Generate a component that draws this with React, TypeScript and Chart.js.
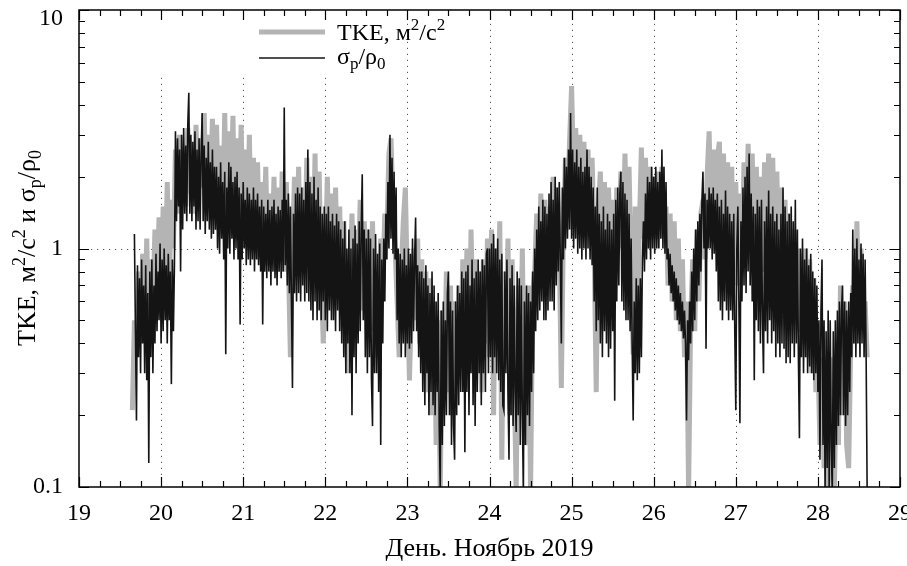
import React, { useEffect, useRef } from "react";
import { Chart, registerables } from "chart.js";

Chart.register(...registerables);

// σp/ρ0 (black), sampled every 0.0125 day starting at day 19.675 (one row = half a day)
const SIGMA_T0 = 19.675;
const SIGMA_DT = 0.0125;
const sigmaValues = [
  1.15, 0.45, 0.19, 0.85, 0.35, 0.75, 0.3, 0.9, 0.4, 0.7, 0.3, 0.85, 0.28, 0.65, 0.126, 0.8, 0.35, 0.9, 0.3, 0.7, 0.4, 0.95, 0.45, 0.8, 0.5, 1.05, 0.4, 0.9, 0.45, 1.0, 0.5, 0.85, 0.4, 0.95, 0.5, 0.8, 0.27, 0.9, 0.45, 0.85,
  3.1, 1.3, 2.9, 1.5, 2.6, 0.8, 3.0, 1.2, 3.2, 1.4, 2.7, 1.3, 3.3, 4.5, 1.4, 3.0, 1.3, 2.8, 1.5, 3.1, 1.2, 2.6, 1.3, 2.9, 1.2, 2.5, 3.7, 1.3, 2.7, 1.15, 2.4, 1.3, 2.8, 1.2, 2.3, 1.1, 2.6, 1.15, 2.2, 1.2,
  2.2, 1.0, 2.0, 0.95, 2.3, 1.1, 1.9, 0.9, 2.1, 0.36, 1.8, 1.0, 2.3, 0.95, 2.2, 1.1, 1.9, 0.9, 2.0, 1.0, 2.1, 0.9, 1.8, 0.48, 1.7, 0.9, 1.9, 1.0, 1.6, 0.85, 1.8, 0.9, 1.7, 0.85, 1.6, 0.9, 1.8, 0.8, 1.6, 0.9,
  1.7, 0.85, 1.5, 0.8, 1.6, 0.48, 1.5, 0.8, 1.4, 0.75, 1.6, 0.8, 1.45, 0.7, 1.5, 0.8, 1.6, 0.75, 1.4, 0.7, 1.5, 0.8, 1.45, 0.75, 1.6, 0.8, 3.9, 0.85, 1.6, 0.7, 1.7, 0.65, 1.5, 0.6, 0.26, 1.4, 0.65, 1.7, 0.6, 1.8,
  0.65, 1.7, 0.6, 1.8, 0.7, 1.6, 0.6, 1.9, 0.65, 2.6, 0.6, 1.9, 0.55, 1.7, 0.5, 2.0, 0.6, 1.6, 0.5, 1.8, 0.55, 1.5, 0.5, 1.4, 0.6, 1.5, 0.5, 1.4, 0.45, 1.5, 0.55, 1.3, 0.5, 1.4, 0.5, 1.25, 0.45, 1.4, 0.55, 1.3,
  0.45, 1.2, 0.4, 1.1, 0.35, 1.3, 0.3, 1.0, 0.4, 1.2, 0.3, 1.0, 0.2, 1.1, 0.35, 1.25, 0.3, 1.05, 0.4, 1.3, 0.45, 1.2, 2.05, 0.5, 1.2, 0.35, 1.1, 0.3, 1.2, 0.35, 1.1, 0.28, 0.18, 1.0, 0.3, 1.15, 0.3, 0.95, 0.25, 1.05,
  0.15, 0.9, 0.4, 1.1, 0.6, 1.4, 0.9, 1.9, 1.0, 3.0, 1.1, 2.4, 0.95, 2.1, 0.9, 1.8, 0.5, 1.0, 0.4, 0.95, 0.35, 0.9, 0.4, 1.0, 0.35, 0.85, 0.4, 1.0, 0.38, 0.95, 0.4, 1.1, 0.45, 0.9, 1.35, 0.45, 0.85, 0.35, 0.8, 0.3,
  0.8, 0.25, 0.75, 0.22, 0.85, 0.3, 0.7, 0.2, 0.65, 0.25, 0.8, 0.22, 0.7, 0.2, 0.6, 0.25, 0.65, 0.18, 0.1, 0.55, 0.15, 0.6, 0.18, 0.5, 0.2, 0.65, 0.8, 0.2, 0.6, 0.15, 0.55, 0.18, 0.13, 0.6, 0.2, 0.7, 0.22, 0.65, 0.25, 0.8,
  0.25, 0.75, 0.14, 0.8, 0.25, 0.85, 0.2, 0.7, 0.3, 0.9, 0.22, 0.75, 0.18, 0.8, 0.25, 0.9, 0.3, 0.8, 0.22, 0.9, 0.3, 0.85, 0.25, 0.95, 1.0, 0.3, 1.0, 0.35, 1.05, 0.3, 1.15, 0.35, 1.0, 0.3, 1.1, 0.28, 0.9, 0.25, 0.95, 0.22,
  0.21, 0.8, 0.3, 0.9, 0.25, 0.13, 0.75, 0.2, 0.85, 0.18, 0.7, 0.25, 0.17, 0.8, 0.2, 0.75, 0.15, 0.7, 0.2, 0.095, 0.6, 0.15, 0.7, 0.2, 0.65, 0.18, 0.6, 0.25, 0.8, 0.3, 1.0, 0.45, 1.2, 0.5, 1.5, 0.55, 1.3, 0.6, 1.6, 0.5,
  1.5, 0.5, 1.4, 0.55, 1.7, 0.6, 1.9, 0.6, 1.6, 0.55, 2.0, 0.7, 1.8, 0.8, 1.9, 0.9, 0.4, 1.8, 0.9, 2.4, 1.0, 2.2, 1.1, 2.6, 1.2, 3.7, 1.1, 2.6, 1.0, 2.3, 1.1, 2.6, 0.95, 2.2, 1.0, 2.4, 0.9, 2.1, 1.0, 2.2,
  0.9, 2.6, 1.0, 2.2, 0.9, 2.0, 0.85, 1.8, 0.6, 1.5, 0.45, 1.8, 0.5, 1.4, 0.4, 1.3, 0.35, 1.5, 0.45, 1.2, 0.4, 1.4, 0.35, 1.3, 0.38, 1.2, 0.45, 1.4, 0.23, 1.6, 0.6, 1.8, 0.7, 1.7, 2.1, 0.6, 1.9, 0.55, 1.7, 0.5,
  1.6, 0.5, 1.4, 0.45, 1.1, 0.4, 0.19, 0.6, 0.3, 0.75, 0.28, 0.7, 0.3, 0.75, 0.35, 0.9, 1.3, 0.8, 1.7, 0.9, 2.0, 1.0, 1.9, 0.9, 2.2, 1.0, 2.0, 0.95, 2.2, 1.0, 1.9, 1.0, 2.1, 1.1, 2.6, 1.0, 2.2, 0.95, 1.9, 0.9,
  1.0, 0.7, 0.95, 0.65, 0.85, 0.6, 0.8, 0.55, 0.75, 0.5, 0.7, 0.48, 0.65, 0.45, 0.6, 0.42, 0.55, 0.4, 0.19, 0.5, 0.34, 0.6, 0.4, 0.8, 0.45, 1.0, 0.5, 1.2, 0.6, 1.3, 0.7, 1.4, 0.8, 1.6, 2.1, 1.0, 1.7, 0.38, 1.6, 1.0,
  1.8, 1.0, 1.7, 0.9, 1.8, 0.95, 1.6, 0.8, 1.7, 0.6, 1.5, 0.55, 1.6, 0.5, 1.4, 0.6, 1.75, 0.55, 1.5, 0.5, 1.4, 0.55, 1.3, 0.5, 1.4, 0.45, 0.21, 1.0, 1.5, 0.6, 0.185, 1.3, 0.6, 1.8, 0.7, 2.0, 0.65, 2.2, 0.8, 2.5,
  0.7, 1.7, 0.6, 1.5, 0.28, 1.4, 0.5, 1.6, 0.45, 1.5, 0.4, 1.6, 0.5, 0.3, 1.3, 0.45, 1.5, 0.4, 1.75, 0.5, 1.4, 0.4, 1.5, 0.45, 1.3, 0.35, 1.4, 0.4, 1.2, 0.35, 1.4, 0.4, 1.8, 0.38, 1.5, 0.33, 1.3, 0.35, 1.4, 0.33,
  1.5, 0.4, 1.3, 0.35, 1.6, 0.4, 1.2, 0.35, 0.16, 1.0, 0.35, 1.1, 0.3, 0.9, 0.35, 1.0, 0.3, 0.85, 0.32, 0.95, 0.3, 0.8, 0.28, 0.75, 0.3, 0.7, 0.25, 0.5, 0.13, 0.55, 0.9, 0.15, 0.5, 0.095, 0.45, 0.12, 0.55, 0.1, 0.5, 0.15,
  0.095, 0.45, 0.12, 0.5, 0.15, 0.55, 0.18, 0.6, 0.2, 0.55, 0.7, 0.2, 0.6, 0.18, 0.55, 0.2, 0.6, 0.25, 0.65, 0.35, 1.2, 0.4, 1.0, 0.35, 1.1, 0.4, 0.9, 0.35, 1.05, 0.4, 0.95, 0.35, 0.9, 0.35, 0.095,
];

// TKE (grey), sampled every 0.025 day starting at day 19.65 (one row = half a day)
const TKE_T0 = 19.65;
const TKE_DT = 0.025;
const tkeValues = [
  0.21, 0.5, 0.35, 0.8, 0.4, 0.95, 0.5, 1.1, 0.45, 0.9, 0.6, 1.2, 0.7, 1.35, 0.6, 1.5, 0.8, 1.9, 0.7, 1.6,
  1.0, 2.6, 1.4, 3.0, 1.6, 2.5, 1.5, 3.2, 1.7, 2.8, 1.4, 3.3, 1.6, 2.9, 1.8, 3.7, 1.5, 3.0, 1.6, 3.5,
  1.4, 3.3, 1.5, 2.7, 1.3, 3.7, 1.2, 3.1, 1.4, 3.6, 1.1, 2.9, 1.3, 3.3, 1.2, 2.6, 1.1, 3.0, 1.0, 2.4,
  1.0, 2.3, 0.9, 1.9, 1.0, 2.2, 0.85, 1.7, 0.9, 2.0, 0.8, 1.8, 0.9, 2.1, 0.8, 1.9, 0.9, 0.35, 1.0, 2.0,
  0.9, 2.2, 0.8, 1.8, 1.0, 2.4, 0.9, 2.0, 0.8, 2.5, 0.7, 2.1, 0.8, 0.4, 0.9, 2.0, 0.7, 1.7, 0.8, 1.8,
  0.7, 1.5, 0.6, 1.3, 0.5, 0.3, 0.7, 1.4, 0.6, 1.2, 0.7, 1.6, 0.55, 1.3, 0.5, 1.2, 0.45, 1.3, 0.5, 0.35,
  0.6, 1.1, 0.7, 1.4, 1.2, 2.5, 2.9, 1.5, 1.0, 0.6, 0.35, 0.8, 1.3, 1.8, 0.7, 0.28, 0.6, 1.0, 0.5, 1.1,
  0.4, 0.9, 0.35, 0.8, 0.25, 0.75, 0.2, 0.6, 0.15, 0.5, 0.095, 0.55, 0.3, 0.8, 0.25, 0.7, 0.2, 0.6, 0.3, 0.7,
  0.35, 0.9, 0.4, 1.0, 0.3, 1.2, 0.45, 0.9, 0.3, 0.8, 0.25, 0.9, 0.4, 1.1, 0.35, 1.2, 0.2, 1.0, 0.45, 1.3,
  0.13, 0.8, 0.4, 1.1, 0.2, 0.9, 0.3, 0.095, 0.7, 0.3, 1.0, 0.2, 0.15, 0.7, 0.095, 0.6, 0.8, 1.4, 0.7, 1.7,
  0.8, 1.6, 0.7, 1.5, 0.9, 2.0, 0.8, 1.8, 1.0, 0.26, 1.2, 2.4, 1.4, 2.8, 4.8, 2.0, 3.2, 1.5, 3.0, 1.4,
  2.8, 1.3, 2.6, 1.2, 2.4, 1.0, 0.25, 1.4, 2.1, 0.8, 1.9, 0.7, 1.8, 0.8, 1.6, 0.7, 1.8, 1.0, 2.1, 1.0,
  2.5, 1.1, 2.2, 0.8, 0.36, 1.5, 0.5, 1.2, 2.65, 1.1, 2.4, 1.0, 2.2, 1.2, 2.0, 1.1, 2.1, 1.2, 2.2, 1.1,
  1.5, 0.7, 1.4, 0.6, 1.3, 0.5, 1.1, 0.45, 0.9, 0.35, 0.6, 0.095, 0.5, 0.9, 0.45, 1.2, 0.6, 1.4, 1.6, 0.9,
  2.0, 3.1, 1.3, 2.6, 1.1, 2.4, 2.8, 1.2, 2.5, 1.0, 2.3, 0.9, 2.2, 0.8, 1.9, 0.7, 1.7, 0.9, 2.3, 1.2,
  2.75, 1.3, 2.5, 1.0, 2.2, 0.9, 2.0, 0.8, 2.3, 1.0, 2.5, 1.1, 2.4, 0.9, 2.1, 0.8, 1.8, 0.7, 1.6, 0.6,
  1.4, 0.6, 1.2, 0.5, 1.0, 0.45, 0.95, 0.4, 1.0, 0.35, 0.9, 0.3, 0.75, 0.25, 0.35, 0.15, 0.35, 0.12, 0.3, 0.095,
  0.35, 0.12, 0.095, 0.3, 0.15, 0.7, 0.2, 0.6, 0.15, 0.12, 0.4, 0.7, 0.4, 1.3, 0.5, 1.0, 0.45, 0.6, 0.35,
];

const xTickLabels = [19, 20, 21, 22, 23, 24, 25, 26, 27, 28, 29];
const yTickLabels = [0.1, 1, 10];
const xGridDays = [20, 21, 22, 23, 24, 25, 26, 27, 28];
const yGridValues = [1];
const xMinorStep = 0.25;
const yMinorMultipliers = [2, 3, 4, 5, 6, 7, 8, 9];

const X_TITLE = "День. Ноябрь 2019";
const LEGEND_TKE = [{ t: "TKE, м" }, { t: "2", k: "sup" }, { t: "/c" }, { t: "2", k: "sup" }];
const LEGEND_SIGMA = [{ t: "σ" }, { t: "p", k: "sub" }, { t: "/ρ" }, { t: "0", k: "sub" }];
const Y_TITLE = [
  { t: "TKE, м" }, { t: "2", k: "sup" }, { t: "/c" }, { t: "2", k: "sup" },
  { t: " и σ" }, { t: "p", k: "sub" }, { t: "/ρ" }, { t: "0", k: "sub" },
];

const FONT = '"Liberation Serif", "Times New Roman", serif';
const GREY = "#b4b4b4";
const BLACK = "#141414";

type Part = { t: string; k?: string };

function partFont(size: number, k?: string) {
  return `${k ? Math.round(size * 0.7) : size}px ${FONT}`;
}

function richWidth(ctx: CanvasRenderingContext2D, parts: Part[], size: number) {
  let w = 0;
  for (const p of parts) {
    ctx.font = partFont(size, p.k);
    w += ctx.measureText(p.t).width;
  }
  return w;
}

function drawRich(ctx: CanvasRenderingContext2D, parts: Part[], x: number, baseline: number, size: number) {
  ctx.textAlign = "left";
  ctx.textBaseline = "alphabetic";
  let cx = x;
  for (const p of parts) {
    ctx.font = partFont(size, p.k);
    let y = baseline;
    if (p.k === "sup") y = baseline - size * 0.4;
    if (p.k === "sub") y = baseline + size * 0.22;
    ctx.fillText(p.t, cx, y);
    cx += ctx.measureText(p.t).width;
  }
}

const decorPlugin = {
  id: "gnuplotDecor",
  beforeDatasetsDraw(chart: any) {
    const { ctx, chartArea: a, scales } = chart;
    const xs = scales.x;
    const ys = scales.y;
    ctx.save();
    ctx.strokeStyle = "#555";
    ctx.lineWidth = 1;
    ctx.setLineDash([1.2, 4.8]);
    for (const d of xGridDays) {
      const px = Math.round(xs.getPixelForValue(d)) + 0.5;
      ctx.beginPath();
      ctx.moveTo(px, a.bottom);
      ctx.lineTo(px, a.top);
      ctx.stroke();
    }
    for (const v of yGridValues) {
      const py = Math.round(ys.getPixelForValue(v)) + 0.5;
      ctx.beginPath();
      ctx.moveTo(a.left, py);
      ctx.lineTo(a.right, py);
      ctx.stroke();
    }
    ctx.setLineDash([]);
    ctx.fillStyle = "#fff";
    ctx.fillRect(152, a.top + 1, 248, 66);
    ctx.restore();
  },
  afterDatasetsDraw(chart: any) {
    const { ctx, chartArea: a, scales } = chart;
    const xs = scales.x;
    const ys = scales.y;
    ctx.save();
    ctx.strokeStyle = "#000";
    ctx.lineWidth = 1.5;
    ctx.strokeRect(a.left, a.top, a.right - a.left, a.bottom - a.top);

    ctx.lineWidth = 1.2;
    for (let d = xTickLabels[0]; d <= xTickLabels[xTickLabels.length - 1] + 1e-9; d += xMinorStep) {
      const major = Math.abs(d - Math.round(d)) < 1e-6;
      const len = major ? 10 : 6;
      const px = Math.round(xs.getPixelForValue(d)) + 0.5;
      ctx.beginPath();
      ctx.moveTo(px, a.bottom);
      ctx.lineTo(px, a.bottom - len);
      ctx.moveTo(px, a.top);
      ctx.lineTo(px, a.top + len);
      ctx.stroke();
    }
    for (let e = -1; e <= 1; e++) {
      const base = Math.pow(10, e);
      const vals = [base, ...(e < 1 ? yMinorMultipliers.map((m) => m * base) : [])];
      vals.forEach((v, i) => {
        const len = i === 0 ? 10 : 6;
        const py = Math.round(ys.getPixelForValue(v)) + 0.5;
        ctx.beginPath();
        ctx.moveTo(a.left, py);
        ctx.lineTo(a.left + len, py);
        ctx.moveTo(a.right, py);
        ctx.lineTo(a.right - len, py);
        ctx.stroke();
      });
    }

    ctx.fillStyle = "#000";
    ctx.font = `24px ${FONT}`;
    ctx.textAlign = "center";
    ctx.textBaseline = "middle";
    for (const d of xTickLabels) {
      ctx.fillText(String(d), xs.getPixelForValue(d), 514);
    }
    ctx.textAlign = "right";
    for (const v of yTickLabels) {
      const py = Math.max(ys.getPixelForValue(v), a.top + 9);
      ctx.fillText(String(v), 63, py);
    }

    ctx.font = `26px ${FONT}`;
    ctx.textAlign = "center";
    ctx.fillText(X_TITLE, (a.left + a.right) / 2, 549);

    ctx.save();
    ctx.translate(26, 248);
    ctx.rotate(-Math.PI / 2);
    const w = richWidth(ctx, Y_TITLE, 26);
    drawRich(ctx, Y_TITLE, -w / 2, 9, 26);
    ctx.restore();

    ctx.lineWidth = 5;
    ctx.strokeStyle = GREY;
    ctx.beginPath();
    ctx.moveTo(259, 32);
    ctx.lineTo(325, 32);
    ctx.stroke();
    ctx.lineWidth = 1.6;
    ctx.strokeStyle = BLACK;
    ctx.beginPath();
    ctx.moveTo(259, 58);
    ctx.lineTo(325, 58);
    ctx.stroke();
    ctx.fillStyle = "#000";
    drawRich(ctx, LEGEND_TKE, 337, 40, 24);
    drawRich(ctx, LEGEND_SIGMA, 337, 64, 24);
    ctx.restore();
  },
};

export default function App() {
  const ref = useRef<HTMLCanvasElement | null>(null);
  useEffect(() => {
    if (!ref.current) return;
    const sigmaData = sigmaValues.map((v, i) => ({ x: SIGMA_T0 + i * SIGMA_DT, y: v }));
    const tkeData = tkeValues.map((v, i) => ({ x: TKE_T0 + i * TKE_DT, y: v }));
    const chart = new Chart(ref.current, {
      type: "line",
      data: {
        datasets: [
          {
            label: "σp/ρ0",
            data: sigmaData,
            borderColor: BLACK,
            borderWidth: 1.6,
            pointRadius: 0,
            tension: 0,
            order: 0,
          },
          {
            label: "TKE, м2/c2",
            data: tkeData,
            borderColor: GREY,
            borderWidth: 5,
            pointRadius: 0,
            tension: 0,
            order: 1,
          },
        ],
      },
      options: {
        responsive: false,
        animation: false,
        devicePixelRatio: 1,
        layout: { padding: { left: 0, right: 7, top: 10, bottom: 0 } },
        plugins: { legend: { display: false }, tooltip: { enabled: false } },
        scales: {
          x: {
            type: "linear",
            min: 19,
            max: 29,
            ticks: { display: false },
            grid: { display: false },
            border: { display: false },
            afterFit: (s: any) => { s.height = 79; },
          },
          y: {
            type: "logarithmic",
            min: 0.1,
            max: 10,
            ticks: { display: false },
            grid: { display: false },
            border: { display: false },
            afterFit: (s: any) => { s.width = 79; },
          },
        },
      },
      plugins: [decorPlugin],
    } as any);
    return () => chart.destroy();
  }, []);
  return (
    <div style={{ position: "absolute", left: 0, top: 0, width: 907, height: 566, background: "#fff" }}>
      <canvas ref={ref} width={907} height={566} style={{ width: 907, height: 566, display: "block" }} />
    </div>
  );
}
